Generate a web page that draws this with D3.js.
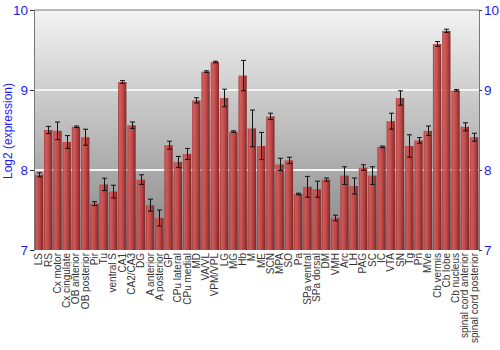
<!DOCTYPE html>
<html><head><meta charset="utf-8">
<script src="https://cdn.jsdelivr.net/npm/d3@7"></script>
<style>body{margin:0;background:#fff}</style>
</head><body>
<svg id="chart" width="500" height="350"></svg>
<script>
const categories = ["LS","RS","Cx motor","Cx cingulate","OB anterior","OB posterior","Pir","Tu","ventral S","CA1","CA2/CA3","DG","A anterior","A posterior","GP","CPu lateral","CPu medial","MD","VA/VL","VPM/VPL","LG","MG","Hb","M","ME","SCN","MPA","SO","Pa","SPa ventral","SPa dorsal","DM","VMH","Arc","LH","PAG","SC","IC","VTA","SN","Tg","Pn","MVe","Cb vermis","Cb lobe","Cb nucleus","spinal cord anterior","spinal cord posterior"];
const values = [7.94,8.50,8.49,8.35,8.54,8.41,7.58,7.82,7.73,9.10,8.56,7.88,7.56,7.40,8.31,8.10,8.20,8.87,9.23,9.35,8.90,8.48,9.18,8.52,8.30,8.67,8.07,8.12,7.70,7.79,7.76,7.88,7.40,7.93,7.80,8.03,7.93,8.29,8.61,8.90,8.30,8.37,8.49,9.575,9.74,8.995,8.54,8.41];
const errors = [0.025,0.045,0.11,0.08,0.01,0.10,0.025,0.077,0.08,0.017,0.04,0.06,0.075,0.10,0.05,0.07,0.07,0.033,0.01,0.01,0.11,0.01,0.19,0.23,0.17,0.04,0.077,0.04,0.01,0.13,0.10,0.02,0.035,0.11,0.10,0.035,0.11,0.01,0.10,0.09,0.14,0.035,0.06,0.03,0.02,0.01,0.05,0.05];
const yTicks = [7,8,9,10];
const yTitle = "Log2 (expression)";

const svg = d3.select("#chart");
const L = 34, R = 479, T = 10, B = 250;
const x = d3.scaleBand().domain(categories).range([L, R]).paddingInner(0.1).paddingOuter(0.08);
const y = d3.scaleLinear().domain([7, 10]).range([B, T]);
const font = "Arial, 'Liberation Sans', sans-serif";

const defs = svg.append("defs");
const bg = defs.append("linearGradient").attr("id","bg").attr("x1",0).attr("y1",0).attr("x2",0).attr("y2",1);
bg.append("stop").attr("offset","0%").attr("stop-color","#f3f3f3");
bg.append("stop").attr("offset","100%").attr("stop-color","#858585");
const bar = defs.append("linearGradient").attr("id","bar").attr("x1",0).attr("y1",0).attr("x2",1).attr("y2",0);
bar.append("stop").attr("offset","0%").attr("stop-color","#a83434");
bar.append("stop").attr("offset","20%").attr("stop-color","#d45656");
bar.append("stop").attr("offset","55%").attr("stop-color","#c04242");
bar.append("stop").attr("offset","100%").attr("stop-color","#7c1e1e");

svg.append("rect").attr("x",L).attr("y",T).attr("width",R-L).attr("height",B-T).attr("fill","url(#bg)");

svg.append("g").selectAll("line").data(yTicks.filter(d=>d>7 && d<10)).join("line")
  .attr("x1",L).attr("x2",R).attr("y1",d=>y(d)).attr("y2",d=>y(d))
  .attr("stroke","#f4f4f4").attr("stroke-width",2);

svg.append("g").selectAll("rect").data(values).join("rect")
  .attr("x",(d,i)=>x(categories[i])).attr("width",x.bandwidth())
  .attr("y",d=>y(d)).attr("height",d=>B-y(d))
  .attr("fill","url(#bar)").attr("opacity",0.93);

const eb = svg.append("g").attr("stroke","#111").attr("stroke-width",1);
values.forEach((v,i)=>{
  const cx = Math.round(x(categories[i]) + x.bandwidth()/2) + 0.5;
  const y1 = y(v+errors[i]), y2 = y(v-errors[i]);
  eb.append("line").attr("x1",cx).attr("x2",cx).attr("y1",y1).attr("y2",y2);
  eb.append("line").attr("x1",cx-2.5).attr("x2",cx+2.5).attr("y1",y1).attr("y2",y1);
  eb.append("line").attr("x1",cx-2.5).attr("x2",cx+2.5).attr("y1",y2).attr("y2",y2);
});

svg.append("line").attr("x1",L).attr("x2",R).attr("y1",T).attr("y2",T).attr("stroke","#777");

const yl = svg.append("g").attr("transform",`translate(${L},0)`).call(d3.axisLeft(y).tickValues(yTicks).tickFormat(d3.format("d")).tickSize(4).tickPadding(2));
const yr = svg.append("g").attr("transform",`translate(${R},0)`).call(d3.axisRight(y).tickValues(yTicks).tickFormat(d3.format("d")).tickSize(3).tickPadding(2));
[yl,yr].forEach(g=>{
  g.select(".domain").attr("stroke","#777");
  g.selectAll(".tick line").attr("stroke","#333");
  g.selectAll(".tick text").attr("fill","#1a1aff").attr("font-family",font).attr("font-size",13.5);
});

svg.append("g").selectAll("text").data(categories).join("text")
  .attr("transform",d=>`translate(${x(d)+x.bandwidth()/2+3.5},${B+3}) rotate(-90)`)
  .attr("text-anchor","end")
  .attr("font-family",font).attr("font-size",10).attr("fill","#333")
  .text(d=>d);

svg.append("text").attr("transform",`translate(12,131) rotate(-90)`)
  .attr("text-anchor","middle").attr("font-family",font).attr("font-size",12)
  .attr("fill","#1a1aff").text(yTitle);
</script>
</body></html>
